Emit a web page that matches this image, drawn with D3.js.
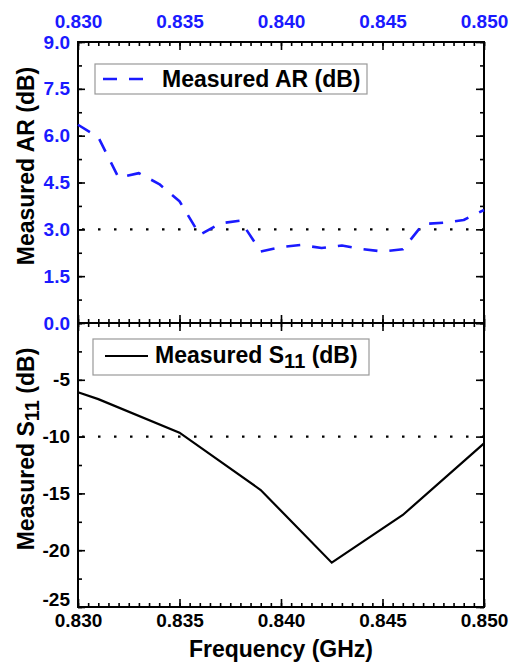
<!DOCTYPE html>
<html>
<head>
<meta charset="utf-8">
<script src="https://cdn.jsdelivr.net/npm/d3@7"></script>
<style>
  html, body { margin: 0; padding: 0; background: #fff; }
  svg { display: block; }
  text { font-family: "Liberation Sans", Arial, Helvetica, sans-serif; font-weight: bold; }
</style>
</head>
<body>
<svg id="chart" width="510" height="663"></svg>
<script>
// ---- Data ----
const freqAR = [0.830, 0.831, 0.832, 0.833, 0.834, 0.835, 0.836, 0.837, 0.838, 0.839, 0.840,
                0.841, 0.842, 0.843, 0.844, 0.845, 0.846, 0.847, 0.848, 0.849, 0.850];
const arValues = [6.35, 5.95, 4.65, 4.8, 4.45, 3.9, 2.82, 3.19, 3.28, 2.29, 2.43,
                  2.5, 2.4, 2.48, 2.37, 2.29, 2.36, 3.17, 3.21, 3.3, 3.62];
const freqS11 = [0.830, 0.831, 0.835, 0.839, 0.8425, 0.846, 0.850];
const s11Values = [-6.1, -6.7, -9.65, -14.7, -21.1, -16.9, -10.6];
const freqTicks = [0.830, 0.835, 0.840, 0.845, 0.850];
const arTicks = [0.0, 1.5, 3.0, 4.5, 6.0, 7.5, 9.0];
const s11Ticks = [-25, -20, -15, -10, -5];
const arThreshold = 3.0;
const s11Threshold = -10;

// ---- Layout ----
const L = 78, R = 484, T = 42, M = 323, B = 607;
const svg = d3.select("#chart");
const blue = "#1a1aff";
const FS = 19;

const x = d3.scaleLinear().domain([0.830, 0.850]).range([L, R]);
const yAR = d3.scaleLinear().domain([0, 9]).range([M, T]);
const yS = d3.scaleLinear().domain([-25, 0]).range([B, M]);

const minorX = d3.range(0, 41).map(i => 0.830 + i * 0.0005);
const minorAR = d3.range(0, 13).map(i => i * 0.75);
const minorS = d3.range(0, 11).map(i => -25 + i * 2.5);

function styleAxis(g) {
  g.select(".domain").remove();
  g.selectAll(".tick line").attr("stroke", "#000").attr("stroke-width", 1.6);
  g.selectAll("text").attr("font-size", FS).attr("font-family", '"Liberation Sans", Arial, sans-serif').attr("font-weight", "bold");
}

// Top axis (blue labels, inward ticks)
svg.append("g").attr("transform", `translate(0,${T})`)
  .call(d3.axisTop(x).tickValues(minorX).tickSize(-4).tickFormat(""))
  .call(styleAxis);
svg.append("g").attr("transform", `translate(0,${T})`)
  .call(d3.axisTop(x).tickValues(freqTicks).tickSize(-8).tickPadding(14).tickFormat(d3.format(".3f")))
  .call(styleAxis)
  .call(g => g.selectAll("text").attr("fill", blue));

// Bottom axis
svg.append("g").attr("transform", `translate(0,${B})`)
  .call(d3.axisBottom(x).tickValues(minorX).tickSize(-4).tickFormat(""))
  .call(styleAxis);
svg.append("g").attr("transform", `translate(0,${B})`)
  .call(d3.axisBottom(x).tickValues(freqTicks).tickSize(-8).tickPadding(7).tickFormat(d3.format(".3f")))
  .call(styleAxis)
  .call(g => g.selectAll("text").attr("fill", "#000"));

// Middle axis: ticks both sides
[[-4, minorX], [-8, freqTicks]].forEach(([s, vals]) => {
  svg.append("g").attr("transform", `translate(0,${M})`)
    .call(d3.axisBottom(x).tickValues(vals).tickSize(-s).tickFormat(""))
    .call(styleAxis)
    .call(g => g.selectAll(".tick line").attr("y1", s));
});

// Left AR axis
svg.append("g").attr("transform", `translate(${L},0)`)
  .call(d3.axisLeft(yAR).tickValues(minorAR).tickSize(-4).tickFormat(""))
  .call(styleAxis);
svg.append("g").attr("transform", `translate(${L},0)`)
  .call(d3.axisLeft(yAR).tickValues(arTicks).tickSize(-7).tickPadding(8).tickFormat(d3.format(".1f")))
  .call(styleAxis)
  .call(g => g.selectAll("text").attr("fill", blue));
// Right AR axis
svg.append("g").attr("transform", `translate(${R},0)`)
  .call(d3.axisRight(yAR).tickValues(minorAR).tickSize(-4).tickFormat(""))
  .call(styleAxis);
svg.append("g").attr("transform", `translate(${R},0)`)
  .call(d3.axisRight(yAR).tickValues(arTicks).tickSize(-8).tickFormat(""))
  .call(styleAxis);

// Left S11 axis
svg.append("g").attr("transform", `translate(${L},0)`)
  .call(d3.axisLeft(yS).tickValues(minorS).tickSize(-4).tickFormat(""))
  .call(styleAxis);
svg.append("g").attr("transform", `translate(${L},0)`)
  .call(d3.axisLeft(yS).tickValues(s11Ticks).tickSize(-7).tickPadding(8).tickFormat(d => String(d)))
  .call(styleAxis)
  .call(g => g.selectAll("text").attr("fill", "#000"))
  .call(g => g.selectAll(".tick").filter(d => d === -25).select("text").attr("dy", "-0.08em"));
// Right S11 axis
svg.append("g").attr("transform", `translate(${R},0)`)
  .call(d3.axisRight(yS).tickValues(minorS).tickSize(-4).tickFormat(""))
  .call(styleAxis);
svg.append("g").attr("transform", `translate(${R},0)`)
  .call(d3.axisRight(yS).tickValues([-25, -20, -15, -10, -5, 0]).tickSize(-8).tickFormat(""))
  .call(styleAxis);

// Frames
svg.append("rect").attr("x", L).attr("y", T).attr("width", R - L).attr("height", B - T)
  .attr("fill", "none").attr("stroke", "#000").attr("stroke-width", 2);
svg.append("line").attr("x1", L).attr("x2", R).attr("y1", M).attr("y2", M)
  .attr("stroke", "#000").attr("stroke-width", 2);

// Threshold dotted lines
svg.append("line").attr("x1", x(0.830) + 4).attr("x2", R).attr("y1", yAR(arThreshold)).attr("y2", yAR(arThreshold))
  .attr("stroke", "#000").attr("stroke-width", 2.4).attr("stroke-dasharray", "2.5,13.5");
svg.append("line").attr("x1", x(0.830) + 4).attr("x2", R).attr("y1", yS(s11Threshold)).attr("y2", yS(s11Threshold))
  .attr("stroke", "#000").attr("stroke-width", 2.4).attr("stroke-dasharray", "2.5,13.5");

// AR line
const arLine = d3.line().x((d, i) => x(freqAR[i])).y(d => yAR(d));
svg.append("path").datum(arValues).attr("d", arLine)
  .attr("fill", "none").attr("stroke", blue).attr("stroke-width", 2.6)
  .attr("stroke-linejoin", "round")
  .attr("stroke-dasharray", "14,12");

// S11 line
const sLine = d3.line().x((d, i) => x(freqS11[i])).y(d => yS(d));
svg.append("path").datum(s11Values).attr("d", sLine)
  .attr("fill", "none").attr("stroke", "#000").attr("stroke-width", 2.2);

// Legends
const lg1 = svg.append("g");
lg1.append("rect").attr("x", 95).attr("y", 64).attr("width", 272).attr("height", 30)
  .attr("fill", "#fff").attr("stroke", "#999").attr("stroke-width", 1.2);
lg1.append("line").attr("x1", 103).attr("x2", 145).attr("y1", 79).attr("y2", 79)
  .attr("stroke", blue).attr("stroke-width", 2.6).attr("stroke-dasharray", "14,12");
lg1.append("text").attr("x", 162).attr("y", 87).attr("font-size", 23).attr("fill", "#000")
  .text("Measured AR (dB)");

const lg2 = svg.append("g");
lg2.append("rect").attr("x", 93).attr("y", 339).attr("width", 276).attr("height", 36)
  .attr("fill", "#fff").attr("stroke", "#999").attr("stroke-width", 1.2);
lg2.append("line").attr("x1", 105).attr("x2", 148).attr("y1", 356).attr("y2", 356)
  .attr("stroke", "#000").attr("stroke-width", 2.2);
const t2 = lg2.append("text").attr("x", 155).attr("y", 363).attr("font-size", 23).attr("fill", "#000");
t2.append("tspan").text("Measured S");
t2.append("tspan").attr("dy", 5).attr("font-size", 20).text("11");
t2.append("tspan").attr("dy", -5).text(" (dB)");

// Axis titles
svg.append("text").attr("transform", "translate(34,166) rotate(-90)")
  .attr("text-anchor", "middle").attr("font-size", 23).attr("fill", "#000")
  .text("Measured AR (dB)");
const yt2 = svg.append("text").attr("transform", "translate(34,449) rotate(-90)")
  .attr("text-anchor", "middle").attr("font-size", 23).attr("fill", "#000");
yt2.append("tspan").text("Measured S");
yt2.append("tspan").attr("dy", 5).attr("font-size", 20).text("11");
yt2.append("tspan").attr("dy", -5).text(" (dB)");

svg.append("text").attr("x", (L + R) / 2).attr("y", 657).attr("text-anchor", "middle")
  .attr("font-size", 23).attr("fill", "#000").text("Frequency (GHz)");
</script>
</body>
</html>
